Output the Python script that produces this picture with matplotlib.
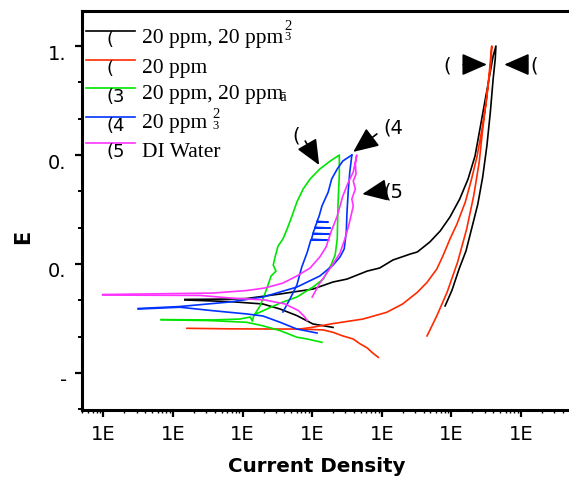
import numpy as np
import matplotlib
matplotlib.use('Agg')
import matplotlib.pyplot as plt
from matplotlib.patches import ArrowStyle
from matplotlib.ticker import FixedLocator, LogLocator, NullFormatter
import matplotlib.transforms as mtransforms

nan = np.nan

# ---------------- data: log10(current density) and potential E ----------------
# curve (1) black
c1_cat_logi = [-7.83, -7.18, -6.71, -6.46, -6.22, -5.99, -5.70]
c1_cat_E = [-0.198, -0.207, -0.220, -0.248, -0.284, -0.330, -0.349]
c1_an_logi = [-7.83, -7.18, -6.94, -6.46, -5.99, -5.70, -5.50, -5.21, -5.03, -4.84, -4.59, -4.49,
              -4.31, -4.16, -4.02, -3.88, -3.76, -3.66, -3.59, -3.52, -3.46, -3.40, -3.36,
              -3.37, -3.40, -3.44, -3.49, -3.55, -3.62, -3.71, -3.79, -3.89, -3.99, -4.09]
c1_an_E = [-0.195, -0.193, -0.190, -0.165, -0.138, -0.099, -0.083, -0.039, -0.022, 0.022, 0.055, 0.066,
           0.121, 0.182, 0.259, 0.358, 0.468, 0.595, 0.743, 0.892, 1.018, 1.145, 1.200,
           1.128, 1.018, 0.837, 0.650, 0.479, 0.330, 0.193, 0.072, -0.028, -0.143, -0.231]

# curve (2) red
c2_cat_logi = [-7.80, -7.18, -6.46, -6.18, -5.84, -5.70, -5.56, -5.41, -5.31, -5.21, -5.13, -5.05]
c2_cat_E = [-0.354, -0.357, -0.358, -0.358, -0.363, -0.376, -0.396, -0.413, -0.440, -0.462, -0.490, -0.514]
c2_an_logi = [-6.18, -5.99, -5.70, -5.27, -4.93, -4.70, -4.49, -4.35, -4.21, -4.12, -4.02, -3.92, -3.80,
              -3.71, -3.63, -3.56, -3.50, -3.46, -3.42,
              -3.43, -3.49, -3.55, -3.60, -3.68, -3.78, -3.91, -4.06, -4.21, -4.35]
c2_an_E = [-0.358, -0.348, -0.328, -0.303, -0.266, -0.220, -0.156, -0.101, -0.028, 0.046, 0.138, 0.220, 0.341,
           0.468, 0.595, 0.743, 0.892, 1.035, 1.200,
           1.112, 0.925, 0.743, 0.561, 0.374, 0.193, 0.011, -0.154, -0.286, -0.396]

# curve (3) green
c3_cat_logi = [-8.17, -7.43, -6.94, -6.71, -6.46, -6.22, -6.07, -5.86]
c3_cat_E = [-0.307, -0.312, -0.321, -0.340, -0.367, -0.403, -0.413, -0.431]
c3_an_logi = [-8.17, -7.43, -7.04, -6.89, -6.86, -6.84, -6.75, -6.69, -6.64, -6.59, -6.52, -6.56, -6.53,
              -6.49, -6.42, -6.36, -6.29, -6.22, -6.13, -6.03, -5.89, -5.74, -5.61,
              -5.61, -5.63, -5.64, -5.67, -5.73, -5.84, -5.99, -6.22, -6.46, -6.68, -6.84]
c3_an_E = [-0.306, -0.308, -0.303, -0.292, -0.314, -0.286, -0.231, -0.176, -0.121, -0.066, -0.039, -0.006, 0.044,
           0.099, 0.138, 0.193, 0.264, 0.341, 0.413, 0.468, 0.523, 0.567, 0.600,
           0.495, 0.319, 0.138, 0.050, -0.006, -0.083, -0.127, -0.182, -0.215, -0.253, -0.281]

# curve (4) blue
c4_cat_logi = [-8.50, -7.90, -7.43, -6.94, -6.71, -6.46, -6.22, -5.93]
c4_cat_E = [-0.248, -0.238, -0.257, -0.275, -0.286, -0.321, -0.358, -0.380]
c4_rev_logi = [-8.50, -7.90, -7.18, -6.71, -6.22, -5.89, -5.70, -5.60, -5.54, -5.51, -5.50, -5.48, -5.46, -5.43]
c4_rev_E = [-0.245, -0.234, -0.209, -0.182, -0.127, -0.066, -0.006, 0.039, 0.083, 0.176, 0.286, 0.413, 0.506, 0.600]
c4_fwd_logi = [-6.42, -6.32, -6.22, -6.15, -6.07, -6.02, -5.76, -6.01, -5.99, -5.74, -5.99, -5.96, -5.74,
               -5.96, -5.93, -5.77, -5.93, -5.90, -5.86, -5.77, -5.72, -5.64, -5.56, -5.43]
c4_fwd_E = [-0.264, -0.193, -0.116, -0.017, 0.066, 0.132, 0.132, 0.136, 0.165, 0.165, 0.169, 0.198, 0.198,
            0.202, 0.231, 0.231, 0.235, 0.264, 0.319, 0.396, 0.468, 0.523, 0.567, 0.600]

# curve (5) magenta
c5_cat_logi = [-9.01, -7.61, -7.18, -6.68, -6.39, -6.20, -6.12, -6.07]
c5_cat_E = [-0.171, -0.173, -0.187, -0.198, -0.220, -0.256, -0.286, -0.311]
c5_an_logi = [-9.01, -7.43, -6.94, -6.68, -6.42, -6.22, -6.03, -5.89, -5.80, -5.73, -5.64, -5.56, -5.48, -5.41, -5.36,
              -5.38, -5.37, -5.41, -5.38, -5.43, -5.41, -5.47, -5.53, -5.60, -5.70, -5.79, -5.89, -6.00]
c5_an_E = [-0.168, -0.160, -0.146, -0.132, -0.105, -0.066, -0.022, 0.039, 0.094, 0.176, 0.264, 0.374, 0.451, 0.506, 0.600,
           0.550, 0.495, 0.457, 0.413, 0.358, 0.319, 0.220, 0.138, 0.061, 0.000, -0.050, -0.105, -0.182]

series_colors = ['#000000', '#ff2a00', '#00e600', '#0033ff', '#ff33ff']
series_segments = [
    [(c1_cat_logi, c1_cat_E), (c1_an_logi, c1_an_E)],
    [(c2_cat_logi, c2_cat_E), (c2_an_logi, c2_an_E)],
    [(c3_cat_logi, c3_cat_E), (c3_an_logi, c3_an_E)],
    [(c4_cat_logi, c4_cat_E), (c4_rev_logi, c4_rev_E), (c4_fwd_logi, c4_fwd_E)],
    [(c5_cat_logi, c5_cat_E), (c5_an_logi, c5_an_E)],
]

legend_ids = ['(', '(', '(3', '(4', '(5']
legend_labels = ['20 ppm, 20 ppm', '20 ppm', '20 ppm, 20 ppm', '20 ppm', 'DI Water']

x_ticks = [1e-9, 1e-8, 1e-7, 1e-6, 1e-5, 1e-4, 1e-3]
x_tick_labels = ['1E'] * 7
y_ticks = [1.2, 0.6, 0.0, -0.6]
y_tick_labels = ['1.', '0.', '0.', '-']
y_minor = [1.0, 0.8, 0.4, 0.2, -0.2, -0.4, -0.8]

# arrows: (label, label log10 i, label E, tail log10 i, tail E, tip log10 i, tip E, label ha)
arrows = [
    ('(', -6.23, 0.710, -6.10, 0.677, -5.90, 0.545, 'center'),
    ('(4', -4.97, 0.754, -5.07, 0.716, -5.41, 0.617, 'left'),
    ('(5', -4.98, 0.400, -4.97, 0.405, -5.28, 0.385, 'left'),
    ('(', -4.06, 1.098, -3.83, 1.098, -3.49, 1.098, 'center'),
    ('(', -2.81, 1.098, -2.91, 1.098, -3.24, 1.098, 'center'),
]

# ---------------- figure ----------------
fig = plt.figure(figsize=(5.69, 4.81), dpi=100)
ax = fig.add_axes([82 / 569, 1 - 411 / 481, 487 / 569, 399 / 481])

for color, segs in zip(series_colors, series_segments):
    for logi, E in segs:
        ax.plot(10 ** np.asarray(logi), E, color=color, lw=1.2, solid_joinstyle='round')

ax.set_xscale('log')
ax.set_xlim(10 ** -9.3075, 10 ** -2.31)
ax.set_ylim(-0.8037, 1.3927)

ax.xaxis.set_major_locator(FixedLocator(x_ticks))
ax.set_xticklabels(x_tick_labels)
ax.xaxis.set_minor_locator(LogLocator(base=10, subs=np.arange(2, 10), numticks=30))
ax.xaxis.set_minor_formatter(NullFormatter())
ax.set_yticks(y_ticks)
ax.set_yticklabels(y_tick_labels)
ax.yaxis.set_minor_locator(FixedLocator(y_minor))

ax.tick_params(axis='both', which='major', direction='out', length=5, width=1.6,
               labelsize=14, top=False, right=False)
ax.tick_params(axis='y', which='major', pad=6)
ax.tick_params(axis='x', which='major', pad=5)
ax.tick_params(axis='y', which='minor', direction='out', length=3, width=1.4, right=False)
ax.tick_params(axis='x', which='minor', direction='out', length=2, width=1.0, top=False)

for side in ['left', 'bottom', 'top']:
    ax.spines[side].set_linewidth(2.2)
ax.spines['right'].set_visible(False)

offset = mtransforms.ScaledTranslation(0, -5 / 100, fig.dpi_scale_trans)
for lab in ax.get_yticklabels():
    lab.set_transform(lab.get_transform() + offset)

ax.set_xlabel('Current Density', fontsize=14.3, fontweight='bold')
ax.xaxis.label.set_va('center')
ax.xaxis.set_label_coords((317 - 82) / 487, (411 - 467) / 399)
ax.set_ylabel('E', fontsize=15, fontweight='bold')
ax.yaxis.label.set_va('center')
ax.yaxis.set_label_coords((23 - 82) / 487, (411 - 237) / 399)

# ---------------- legend (manual) ----------------
serif = 'Liberation Serif'
row_line_y = [(411 - 32) / 399, (411 - 61) / 399, (411 - 89) / 399, (411 - 118) / 399, (411 - 144) / 399]
row_base_y = [(411 - 43) / 399, (411 - 73) / 399, (411 - 99) / 399, (411 - 128) / 399, (411 - 157) / 399]
lx0, lx1 = (86 - 82) / 487, (135 - 82) / 487
for i in range(5):
    ax.plot([lx0, lx1], [row_line_y[i]] * 2, transform=ax.transAxes, color=series_colors[i],
            lw=1.2, clip_on=False)
    ax.text((107 - 82) / 487, row_line_y[i] + 1 / 399, legend_ids[i], transform=ax.transAxes,
            fontsize=13, ha='left', va='top')
    ax.text((142 - 82) / 487, row_base_y[i], legend_labels[i], transform=ax.transAxes,
            fontsize=15.5, family=serif, ha='left', va='baseline')
# superscripts / subscripts
ax.text((284 - 82) / 487, (411 - 33) / 399, '2', transform=ax.transAxes, fontsize=10.5,
        family=serif, ha='left', va='bottom')
ax.text((284 - 82) / 487, (411 - 31) / 399, '3', transform=ax.transAxes, fontsize=9,
        family=serif, ha='left', va='top')
ax.text((279 - 82) / 487, (411 - 101) / 399, 'ā', transform=ax.transAxes, fontsize=11,
        family=serif, ha='left', va='baseline')
ax.text((212 - 82) / 487, (411 - 121) / 399, '2', transform=ax.transAxes, fontsize=10.5,
        family=serif, ha='left', va='bottom')
ax.text((212 - 82) / 487, (411 - 120) / 399, '3', transform=ax.transAxes, fontsize=9,
        family=serif, ha='left', va='top')

# ---------------- arrows ----------------
style = ArrowStyle('-|>', head_length=15.5, head_width=6.8)
for lab, lxi, lyE, txi, tyE, hxi, hyE, ha in arrows:
    ax.annotate('', xy=(10 ** hxi, hyE), xytext=(10 ** txi, tyE),
                arrowprops=dict(arrowstyle=style, mutation_scale=1, color='black', lw=1.2,
                                shrinkA=0, shrinkB=0))
    ax.text(10 ** lxi, lyE, lab, fontsize=14, ha=ha, va='center')

fig.savefig('out.png', dpi=100)
